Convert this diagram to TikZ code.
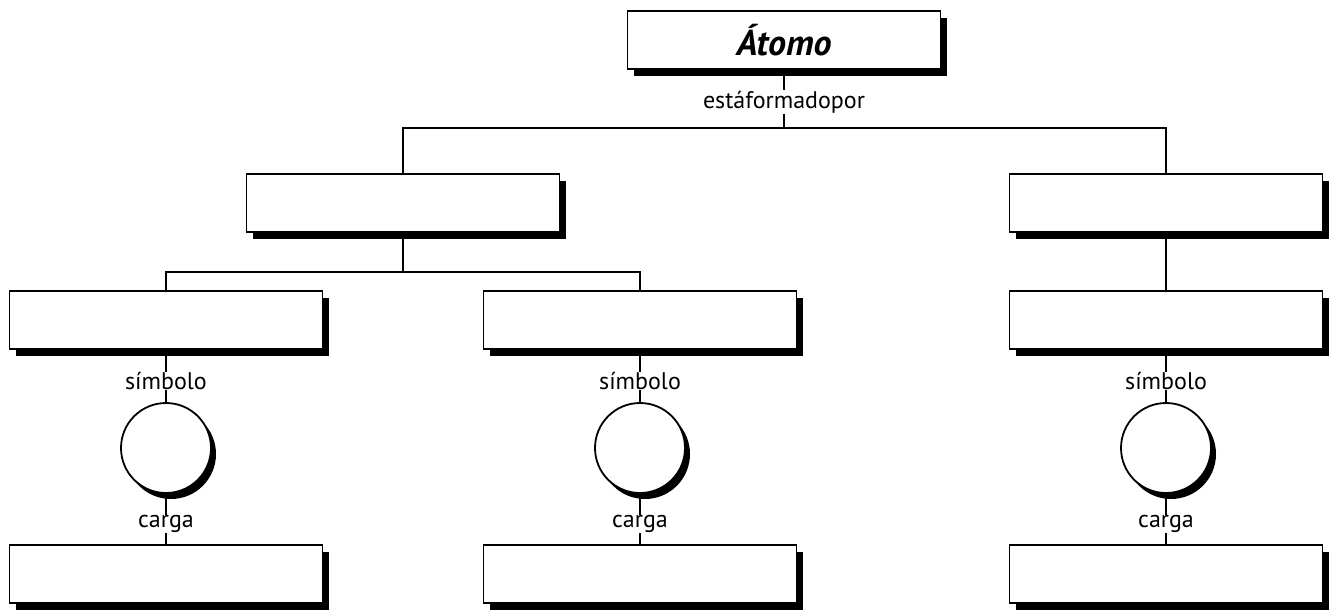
\documentclass[tikz,border=0pt]{standalone}
\usepackage{fontspec}
\setmainfont{PT Sans}
\usetikzlibrary{shadows}
\begin{document}
\begin{tikzpicture}[x=1pt,y=-1pt,
  box/.style={draw=black, line width=1.8pt, fill=white, minimum width=313pt, minimum height=58pt, inner sep=0pt,
    drop shadow={shadow xshift=6pt, shadow yshift=-7pt, fill=black, opacity=1}},
  ball/.style={circle, draw=black, line width=1.8pt, fill=white, minimum size=90pt, inner sep=0pt,
    drop shadow={shadow xshift=5pt, shadow yshift=-6pt, fill=black, opacity=1}},
  lab/.style={font=\fontsize{24}{26}\selectfont, inner sep=0.5pt},
  conn/.style={line width=1.8pt}]
\useasboundingbox (0,0) rectangle (1332,614);
\node[box, font=\fontsize{36}{38}\selectfont\bfseries\itshape] (atomo) at (784,40) {Átomo};
\node[lab] (l0) at (784,102) {estáformadopor};
\coordinate (j1) at (784,128);
\coordinate (j2) at (403,272);
\draw[conn] (atomo.south) -- (l0.north);
\draw[conn] (l0.south) -- (j1);
\node[box] (b2a) at (403,203) {};
\node[box] (b2b) at (1166,203) {};
\draw[conn] (j1) -| (b2a.north);
\draw[conn] (j1) -| (b2b.north);
\draw[conn] (b2a.south) -- (j2);
\node[box] (b3a) at (166,320) {};
\node[box] (b3b) at (640,320) {};
\node[box] (b3c) at (1166,320) {};
\draw[conn] (j2) -| (b3a.north);
\draw[conn] (j2) -| (b3b.north);
\draw[conn] (b2b.south) -- (b3c.north);
\foreach \n/\x in {a/166,b/640,c/1166}{
  \node[lab] (s\n) at (\x,381) {símbolo};
  \node[ball] (c\n) at (\x,448) {};
  \node[lab] (k\n) at (\x,524) {carga};
  \node[box] (b4\n) at (\x,574) {};
  \draw[conn] (b3\n.south) -- (s\n.north);
  \draw[conn] (s\n.south) -- (c\n.north);
  \draw[conn] (c\n.south) -- (k\n.north);
  \draw[conn] (k\n.south) -- (b4\n.north);
}
\end{tikzpicture}
\end{document}
